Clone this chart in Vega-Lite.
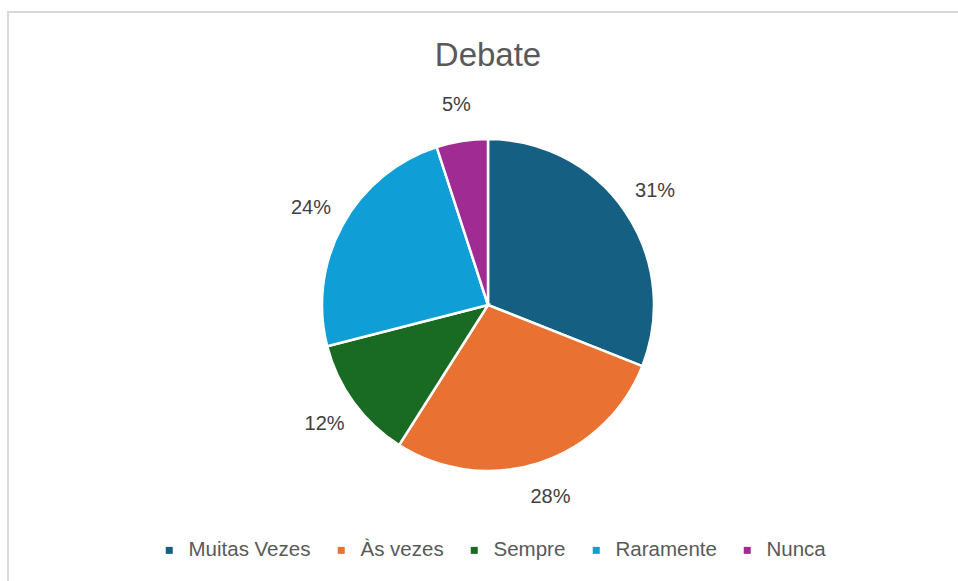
{
  "$schema": "https://vega.github.io/schema/vega-lite/v6.json",
  "width": 960,
  "height": 586,
  "autosize": {"type": "none"},
  "padding": {"left": 8, "top": 12, "right": -10, "bottom": -17},
  "background": "white",
  "view": {"stroke": "#d9d9d9", "strokeWidth": 2, "fill": "white", "strokeDash": [960, 1546, 586]},
  "title": {
    "text": "Debate",
    "anchor": "middle",
    "frame": "group",
    "orient": "top",
    "offset": -61,
    "fontSize": 33,
    "font": "Liberation Sans",
    "fontWeight": "normal",
    "color": "#595959"
  },
  "config": {
    "font": "Liberation Sans"
  },
  "data": {
    "values": [
      {"categoria": "Muitas Vezes", "pct": 31, "ordem": 1, "rotulo": "31%"},
      {"categoria": "Às vezes", "pct": 28, "ordem": 2, "rotulo": "28%"},
      {"categoria": "Sempre", "pct": 12, "ordem": 3, "rotulo": "12%"},
      {"categoria": "Raramente", "pct": 24, "ordem": 4, "rotulo": "24%"},
      {"categoria": "Nunca", "pct": 5, "ordem": 5, "rotulo": "5%"}
    ]
  },
  "encoding": {
    "theta": {"field": "pct", "type": "quantitative", "stack": true},
    "order": {"field": "ordem", "type": "quantitative", "sort": "ascending"}
  },
  "layer": [
    {
      "mark": {"type": "arc", "outerRadius": 166, "stroke": "white", "strokeWidth": 2.5},
      "encoding": {
        "color": {
          "field": "categoria",
          "type": "nominal",
          "sort": null,
          "scale": {
            "domain": ["Muitas Vezes", "Às vezes", "Sempre", "Raramente", "Nunca"],
            "range": ["#156082", "#E97132", "#196B24", "#0F9ED5", "#A02B93"]
          },
          "legend": {
            "orient": "none",
            "direction": "horizontal",
            "legendX": 151,
            "legendY": 528,
            "title": null,
            "symbolType": "square",
            "symbolSize": 49,
            "symbolStrokeWidth": 0,
            "labelFontSize": 20.5,
            "labelFont": "Liberation Sans",
            "labelColor": "#595959",
            "labelOffset": 9,
            "columnPadding": 20,
            "labelLimit": 300
          }
        }
      }
    },
    {
      "mark": {"type": "text", "radius": 202, "fontSize": 20, "font": "Liberation Sans", "color": "#404040"},
      "encoding": {
        "text": {"field": "rotulo", "type": "nominal"}
      }
    }
  ]
}
